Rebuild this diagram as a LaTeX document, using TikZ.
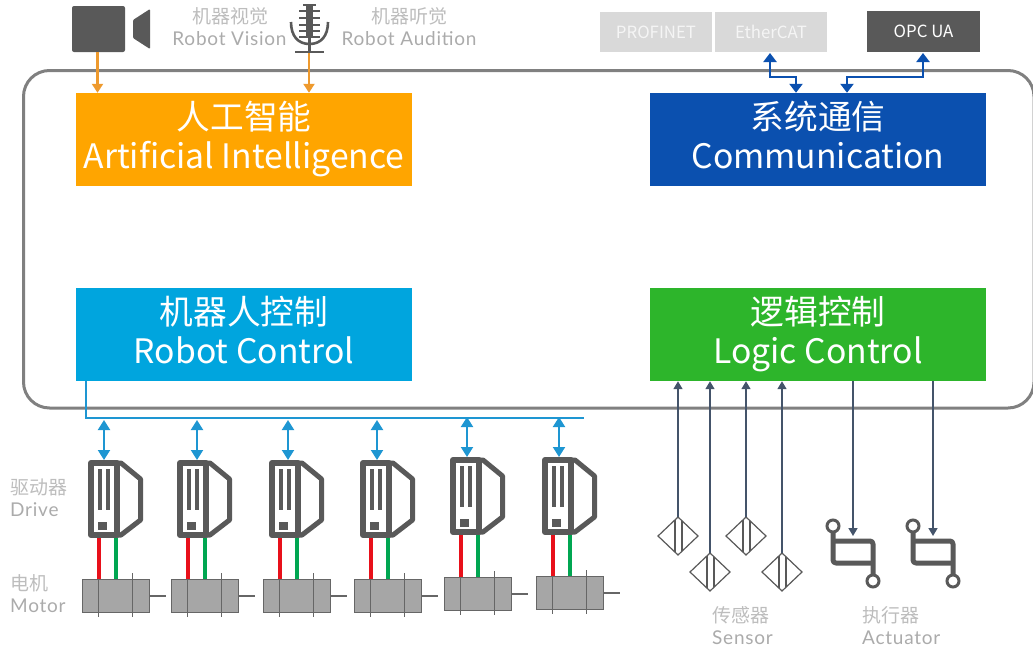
\documentclass[tikz,border=0pt]{standalone}
\usepackage{fontspec}
\setmainfont{Noto Sans CJK SC}
\newfontfamily\latolabel{Lato}[LetterSpace=4]
\usetikzlibrary{arrows.meta}

\definecolor{darkgrey}{HTML}{595959}
\definecolor{framegrey}{HTML}{808080}
\definecolor{labelgrey}{HTML}{ABABAB}
\definecolor{cngrey}{HTML}{BDBDBD}
\definecolor{aiorange}{HTML}{FFA500}
\definecolor{arroworange}{HTML}{EE9A2E}
\definecolor{commblue}{HTML}{0B50AF}
\definecolor{robotblue}{HTML}{00A5DE}
\definecolor{logicgreen}{HTML}{2DB52B}
\definecolor{arrowslate}{HTML}{44546A}
\definecolor{busblue}{HTML}{1E96D2}
\definecolor{motorgrey}{HTML}{A6A6A6}
\definecolor{wirered}{HTML}{E8101A}
\definecolor{wiregreen}{HTML}{00A651}

\newcommand{\boxtop}{\rule{0pt}{31.3pt}}

\tikzset{
    bigbox/.style = {minimum width = 336pt, minimum height = 93pt, inner sep = 0pt, text = white, align = center,
        font = \fontsize{33.7}{39}\selectfont},
    fieldbox/.style = {minimum width = 112pt, minimum height = 40pt, inner sep = 0pt,
        font = \fontsize{16.8}{19}\selectfont},
    cnlabel/.style = {inner sep = 0pt, text = cngrey, font = \fontsize{19}{22}\selectfont},
    enlabel/.style = {inner sep = 0pt, text = labelgrey, font = \latolabel\fontsize{19}{22}\selectfont},
    orangearrow/.style = {draw = arroworange, line width = 2.2pt, -{Triangle[length = 9pt, width = 11pt]}},
    commarrow/.style = {draw = commblue, line width = 2.4pt, {Triangle[length = 9pt, width = 13pt]}-{Triangle[length = 9pt, width = 13pt]}},
    busarrow/.style = {draw = busblue, line width = 2pt, {Triangle[length = 10pt, width = 12pt]}-{Triangle[length = 10pt, width = 12pt]}},
    ioarrow/.style = {draw = arrowslate, line width = 1.6pt, -{Triangle[length = 8pt, width = 9pt]}},
    devline/.style = {draw = darkgrey, line width = 5pt, line join = round},
}

\begin{document}
\begin{tikzpicture}[x = 1pt, y = -1pt]
    \useasboundingbox (0,0) rectangle (1033,648);
    \draw [framegrey, line width = 3pt, rounded corners = 26pt] (23.5,70.5) rectangle (1034,408);

    \node [bigbox, fill = aiorange] (ai) at (244,139.5) {\boxtop 人工智能\\\strut Artificial Intelligence};
    \node [bigbox, fill = commblue] (comm) at (818,139.5) {\boxtop 系统通信\\\strut Communication};
    \node [bigbox, fill = robotblue] (robot) at (244,334.5) {\boxtop 机器人控制\\\strut Robot Control};
    \node [bigbox, fill = logicgreen] (logic) at (818,334.5) {\boxtop 逻辑控制\\\strut Logic Control};

    % vision and audition
    \fill [darkgrey, rounded corners = 2pt] (72,6) rectangle (125,52);
    \fill [darkgrey, rounded corners = 1pt] (133,20) -- (150,9) -- (150,49) -- (133,38) -- cycle;
    \coordinate (camera) at (97.5,52);
    \draw [darkgrey, line width = 7pt] (309.5,5) -- (309.5,38);
    \draw [darkgrey, line width = 2.6pt] (309.5,38) -- (309.5,52) (295,52) -- (324,52) (303,5) -- (316,5);
    \foreach \y in {11,18,25,31,37}
        \draw [darkgrey, line width = 2.4pt] (299,\y) -- (320,\y);
    \draw [darkgrey, line width = 2.6pt] (291,22) .. controls (291,36) and (298,44) .. (309.5,44)
        .. controls (321,44) and (328,36) .. (328,22);
    \coordinate (mic) at (309,53);
    \draw [orangearrow] (camera) -- (camera |- ai.north);
    \draw [orangearrow] (mic) -- (mic |- ai.north);
    \node [cnlabel] (visioncn) at (230,16) {机器视觉};
    \node [enlabel] (visionen) at (229.5,39) {Robot Vision};
    \node [cnlabel] (auditioncn) at (409,16) {机器听觉};
    \node [enlabel] (auditionen) at (409,39) {Robot Audition};

    % fieldbus
    \node [fieldbox, fill = black!15, text = black!4] (profinet) at (656,32) {PROFINET};
    \node [fieldbox, fill = black!15, text = black!4] (ethercat) at (771,32) {EtherCAT};
    \node [fieldbox, fill = darkgrey, text = white, minimum width = 113pt, minimum height = 41pt] (opcua) at (923.5,31.5) {OPC UA};
    \coordinate (ethercatport) at (770,53);
    \coordinate (opcuaport) at (923,53);
    \coordinate (commleft) at (796,92);
    \coordinate (commright) at (847,92);
    \coordinate (bendlevel) at (0,77);
    \draw [commarrow] (ethercatport) -- (ethercatport |- bendlevel) -- (commleft |- bendlevel) -- (commleft |- comm.north);
    \draw [commarrow] (opcuaport) -- (opcuaport |- bendlevel) -- (commright |- bendlevel) -- (commright |- comm.north);

    % drives and motors
    \draw [busblue, line width = 2pt] (86,381) -- (86,418) -- (584,418);
    \foreach \i/\x/\y/\my/\ax in {1/88/460/579/104, 2/177/460/579/197, 3/269/460/579/288, 4/360/460/579/377, 5/450/457/577/467, 6/542/457/576/559}{
        \coordinate (drive\i) at (\ax,\y);
        \coordinate (busdrop\i) at (\ax,\y-40);
        \draw [busarrow] (busdrop\i) -- (drive\i);
        \fill [motorgrey, draw = black!60, line width = 1pt] (\x-6,\my) rectangle (\x+61,\my+33);
        \draw [black!60, line width = 1.2pt] (\x+61,\my+17) -- (\x+78,\my+17);
        \draw [black!60, line width = 1.2pt] (\x+10.5,\my-6) -- (\x+10.5,\my+38);
        \draw [black!60, line width = 1.2pt] (\x+44.5,\my-6) -- (\x+44.5,\my+38);
        \draw [wirered, line width = 4pt] (\x+10.5,\y+78) -- (\x+10.5,\my);
        \draw [wiregreen, line width = 4pt] (\x+27.5,\y+78) -- (\x+27.5,\my);
        \draw [devline, fill = white] (\x+29,\y+3) -- (\x+33,\y+3) -- (\x+52.5,\y+19) -- (\x+52.5,\y+60) -- (\x+33,\y+75) -- (\x+29,\y+75) -- cycle;
        \draw [devline, line width = 6pt, fill = white] (\x+3,\y+3) rectangle (\x+29,\y+75);
        \fill [darkgrey] (\x+10,\y+9) rectangle (\x+14,\y+50);
        \fill [darkgrey] (\x+17.7,\y+9) rectangle (\x+21.7,\y+50);
        \fill [darkgrey] (\x+10,\y+62) rectangle (\x+19,\y+70);
    }
    \node [cnlabel, anchor = west] (drivecn) at (10,487) {驱动器};
    \node [enlabel, anchor = west] (driveen) at (10,510) {Drive};
    \node [cnlabel, anchor = west] (motorcn) at (10,583) {电机};
    \node [enlabel, anchor = west] (motoren) at (10,606) {Motor};

    % sensors
    \foreach \i/\x/\y in {1/678/517, 2/710/553, 3/746/517, 4/782/553}{
        \draw [darkgrey, line width = 1.2pt] (\x,\y) -- (\x+20,\y+19) -- (\x,\y+38) -- (\x-20,\y+19) -- cycle;
        \draw [darkgrey, line width = 1.2pt] (\x-3,\y+3) -- (\x-3,\y+35) (\x+4,\y+4) -- (\x+4,\y+34);
        \coordinate (sensor\i) at (\x,\y);
        \draw [ioarrow] (sensor\i) -- (sensor\i |- logic.south);
    }
    \node [cnlabel, anchor = west] (sensorcn) at (712,615) {传感器};
    \node [enlabel, anchor = west] (sensoren) at (712,637.5) {Sensor};

    % actuators
    \foreach \i/\x in {1/833, 2/913}{
        \draw [devline, rounded corners = 3pt] (\x,530) -- (\x,563) -- (\x+40,563);
        \draw [devline, rounded corners = 3pt] (\x,541) -- (\x+40,541) -- (\x+40,576);
        \draw [darkgrey, line width = 3pt, fill = white] (\x,526) circle (6);
        \draw [darkgrey, line width = 3pt, fill = white] (\x+40,581) circle (6);
        \coordinate (actuator\i) at (\x+20,536);
        \draw [ioarrow] (actuator\i |- logic.south) -- (actuator\i);
    }
    \node [cnlabel, anchor = west] (actuatorcn) at (862,615) {执行器};
    \node [enlabel, anchor = west] (actuatoren) at (862,637.5) {Actuator};
\end{tikzpicture}
\end{document}
